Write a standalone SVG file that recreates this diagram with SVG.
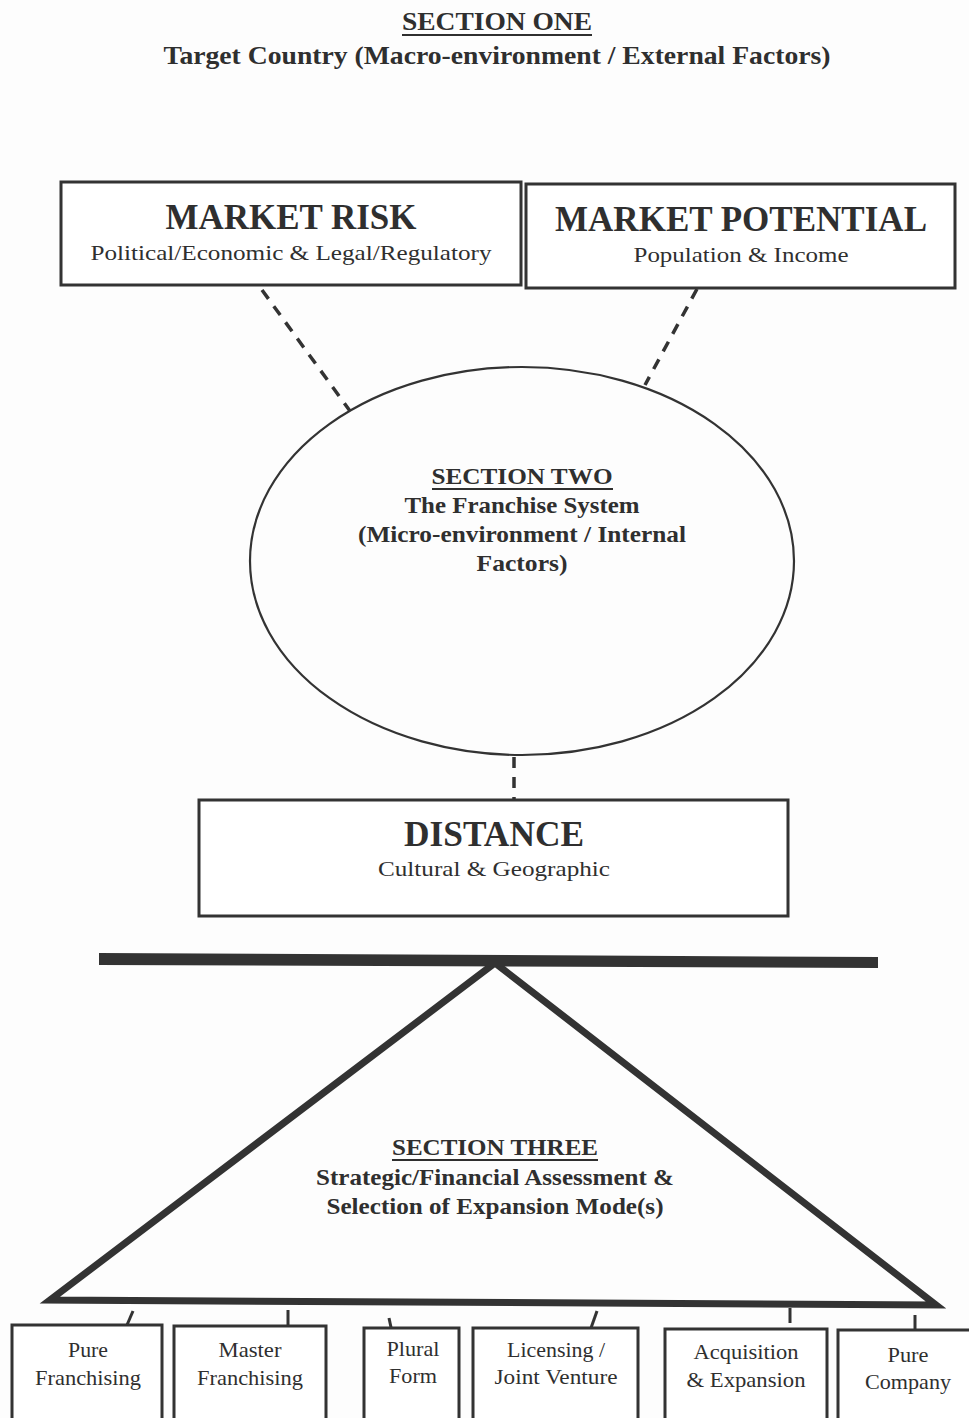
<svg xmlns="http://www.w3.org/2000/svg" width="969" height="1418" viewBox="0 0 969 1418" font-family="'Liberation Serif', Tinos, 'Times New Roman', Times, serif">
<style>
  text { fill: #2f2f2f; text-anchor: middle; }
  .b { font-weight: bold; }
  .box { fill: #ffffff; stroke: #333333; stroke-width: 3; }
  .dash { stroke: #333333; stroke-width: 3.5; stroke-dasharray: 11 9; fill: none; }
  .tick { stroke: #333333; stroke-width: 3; fill: none; }
  .ul { stroke: #2f2f2f; stroke-width: 1.8; }
</style>
<rect x="0" y="0" width="969" height="1418" fill="#fdfdfd"/>

<g id="title">
  <text class="b" x="497" y="30" font-size="26" textLength="190" lengthAdjust="spacingAndGlyphs">SECTION ONE</text>
  <line class="ul" x1="402" y1="35" x2="592" y2="35"/>
  <text class="b" x="497" y="64" font-size="25" textLength="667" lengthAdjust="spacingAndGlyphs">Target Country (Macro-environment / External Factors)</text>
</g>

<g id="connectors">
  <line class="dash" x1="262" y1="290" x2="350" y2="411"/>
  <line class="dash" x1="697" y1="289" x2="645" y2="385"/>
  <line class="dash" x1="514" y1="757" x2="514" y2="800" stroke-dasharray="12 10"/>
  <line class="tick" x1="133" y1="1311" x2="127" y2="1325"/>
  <line class="tick" x1="288" y1="1310" x2="288" y2="1326"/>
  <line class="tick" x1="389" y1="1318" x2="392" y2="1332"/>
  <line class="tick" x1="597" y1="1311" x2="591" y2="1328"/>
  <line class="tick" x1="790" y1="1308" x2="790" y2="1323"/>
  <line class="tick" x1="915" y1="1315" x2="915" y2="1329"/>
</g>

<g id="market-risk">
  <rect class="box" x="61" y="182" width="460" height="103"/>
  <text class="b" x="291" y="229" font-size="35" textLength="251" lengthAdjust="spacingAndGlyphs">MARKET RISK</text>
  <text x="291" y="260" font-size="22" textLength="401" lengthAdjust="spacingAndGlyphs">Political/Economic &amp; Legal/Regulatory</text>
</g>

<g id="market-potential">
  <rect class="box" x="526" y="184" width="429" height="104"/>
  <text class="b" x="741" y="231" font-size="35" textLength="372" lengthAdjust="spacingAndGlyphs">MARKET POTENTIAL</text>
  <text x="741" y="262" font-size="22" textLength="215" lengthAdjust="spacingAndGlyphs">Population &amp; Income</text>
</g>

<g id="section-two">
  <ellipse cx="522" cy="561" rx="272" ry="194" fill="none" stroke="#333333" stroke-width="2.2"/>
  <text class="b" x="522" y="484" font-size="23" textLength="181" lengthAdjust="spacingAndGlyphs">SECTION TWO</text>
  <line class="ul" x1="432" y1="489" x2="613" y2="489"/>
  <text class="b" x="522" y="513" font-size="23" textLength="235" lengthAdjust="spacingAndGlyphs">The Franchise System</text>
  <text class="b" x="522" y="542" font-size="23" textLength="328" lengthAdjust="spacingAndGlyphs">(Micro-environment / Internal</text>
  <text class="b" x="522" y="571" font-size="23" textLength="91" lengthAdjust="spacingAndGlyphs">Factors)</text>
</g>

<g id="distance">
  <rect class="box" x="199" y="800" width="589" height="116"/>
  <text class="b" x="494" y="846" font-size="35" textLength="180" lengthAdjust="spacingAndGlyphs">DISTANCE</text>
  <text x="494" y="876" font-size="22" textLength="232" lengthAdjust="spacingAndGlyphs">Cultural &amp; Geographic</text>
</g>

<g id="section-three">
  <polygon points="50,1300 495,963 936,1305" fill="none" stroke="#333333" stroke-width="7" stroke-linejoin="miter" stroke-miterlimit="10"/>
  <polygon points="99,953 878,957 878,968 99,965" fill="#333333"/>
  <text class="b" x="495" y="1155" font-size="23" textLength="206" lengthAdjust="spacingAndGlyphs">SECTION THREE</text>
  <line class="ul" x1="392" y1="1160" x2="598" y2="1160"/>
  <text class="b" x="495" y="1185" font-size="23" textLength="358" lengthAdjust="spacingAndGlyphs">Strategic/Financial Assessment &amp;</text>
  <text class="b" x="495" y="1214" font-size="23" textLength="337" lengthAdjust="spacingAndGlyphs">Selection of Expansion Mode(s)</text>
</g>

<g id="pure-franchising">
  <rect class="box" x="12" y="1325" width="150" height="100"/>
  <text x="88" y="1357" font-size="21" textLength="40" lengthAdjust="spacingAndGlyphs">Pure</text>
  <text x="88" y="1385" font-size="21" textLength="106" lengthAdjust="spacingAndGlyphs">Franchising</text>
</g>

<g id="master-franchising">
  <rect class="box" x="174" y="1326" width="152" height="100"/>
  <text x="250" y="1357" font-size="21" textLength="63" lengthAdjust="spacingAndGlyphs">Master</text>
  <text x="250" y="1385" font-size="21" textLength="106" lengthAdjust="spacingAndGlyphs">Franchising</text>
</g>

<g id="plural-form">
  <rect class="box" x="364" y="1328" width="95" height="100"/>
  <text x="413" y="1356" font-size="21" textLength="53" lengthAdjust="spacingAndGlyphs">Plural</text>
  <text x="413" y="1383" font-size="21" textLength="48" lengthAdjust="spacingAndGlyphs">Form</text>
</g>

<g id="licensing-jv">
  <rect class="box" x="473" y="1328" width="165" height="100"/>
  <text x="556" y="1357" font-size="21" textLength="98" lengthAdjust="spacingAndGlyphs">Licensing /</text>
  <text x="556" y="1384" font-size="21" textLength="123" lengthAdjust="spacingAndGlyphs">Joint Venture</text>
</g>

<g id="acquisition-expansion">
  <rect class="box" x="665" y="1329" width="162" height="100"/>
  <text x="746" y="1359" font-size="21" textLength="105" lengthAdjust="spacingAndGlyphs">Acquisition</text>
  <text x="746" y="1387" font-size="21" textLength="119" lengthAdjust="spacingAndGlyphs">&amp; Expansion</text>
</g>

<g id="pure-company">
  <rect class="box" x="838" y="1330" width="140" height="100"/>
  <text x="908" y="1362" font-size="21" textLength="41" lengthAdjust="spacingAndGlyphs">Pure</text>
  <text x="908" y="1389" font-size="21" textLength="86" lengthAdjust="spacingAndGlyphs">Company</text>
</g>
</svg>
